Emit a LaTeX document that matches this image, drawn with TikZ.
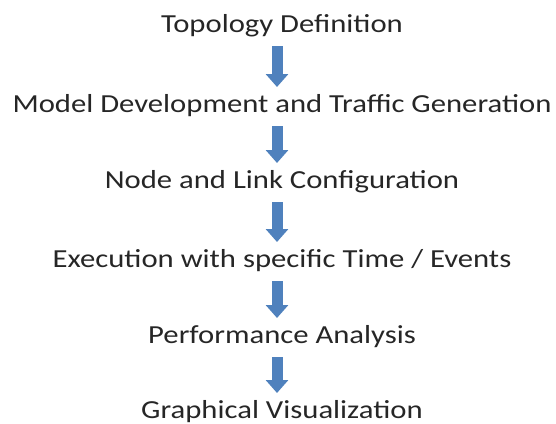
\documentclass[tikz,border=0pt]{standalone}
\usepackage{fontspec}
\setmainfont{Carlito}[FakeStretch=1.18]
\usetikzlibrary{arrows.meta}
\definecolor{arrowblue}{HTML}{4F81BD}
\tikzset{
  label/.style={anchor=base, inner sep=0pt, font=\fontsize{26}{30}\selectfont, text=black!85},
  bigarrow/.style={draw=arrowblue, line width=11pt, -{Triangle[width=22pt,length=13pt]}, arrowblue}
}
\begin{document}
\begin{tikzpicture}[x=1pt,y=-1pt]
\useasboundingbox (0,0) rectangle (556,423);
\node[label] (t1) at (282,32) {Topology Definition};
\node[label] (t2) at (282,112) {Model Development and Traffic Generation};
\node[label] (t3) at (282,188) {Node and Link Configuration};
\node[label] (t4) at (282,267) {Execution with specific Time / Events};
\node[label] (t5) at (282,343) {Performance Analysis};
\node[label] (t6) at (282,418) {Graphical Visualization};
\foreach \a/\b in {t1/t2,t2/t3,t3/t4,t4/t5,t5/t6}{
  \draw[bigarrow] ([xshift=-5pt,yshift=-14pt]\a.base) -- ([xshift=-5pt,yshift=25pt]\b.base);
}
\end{tikzpicture}
\end{document}
